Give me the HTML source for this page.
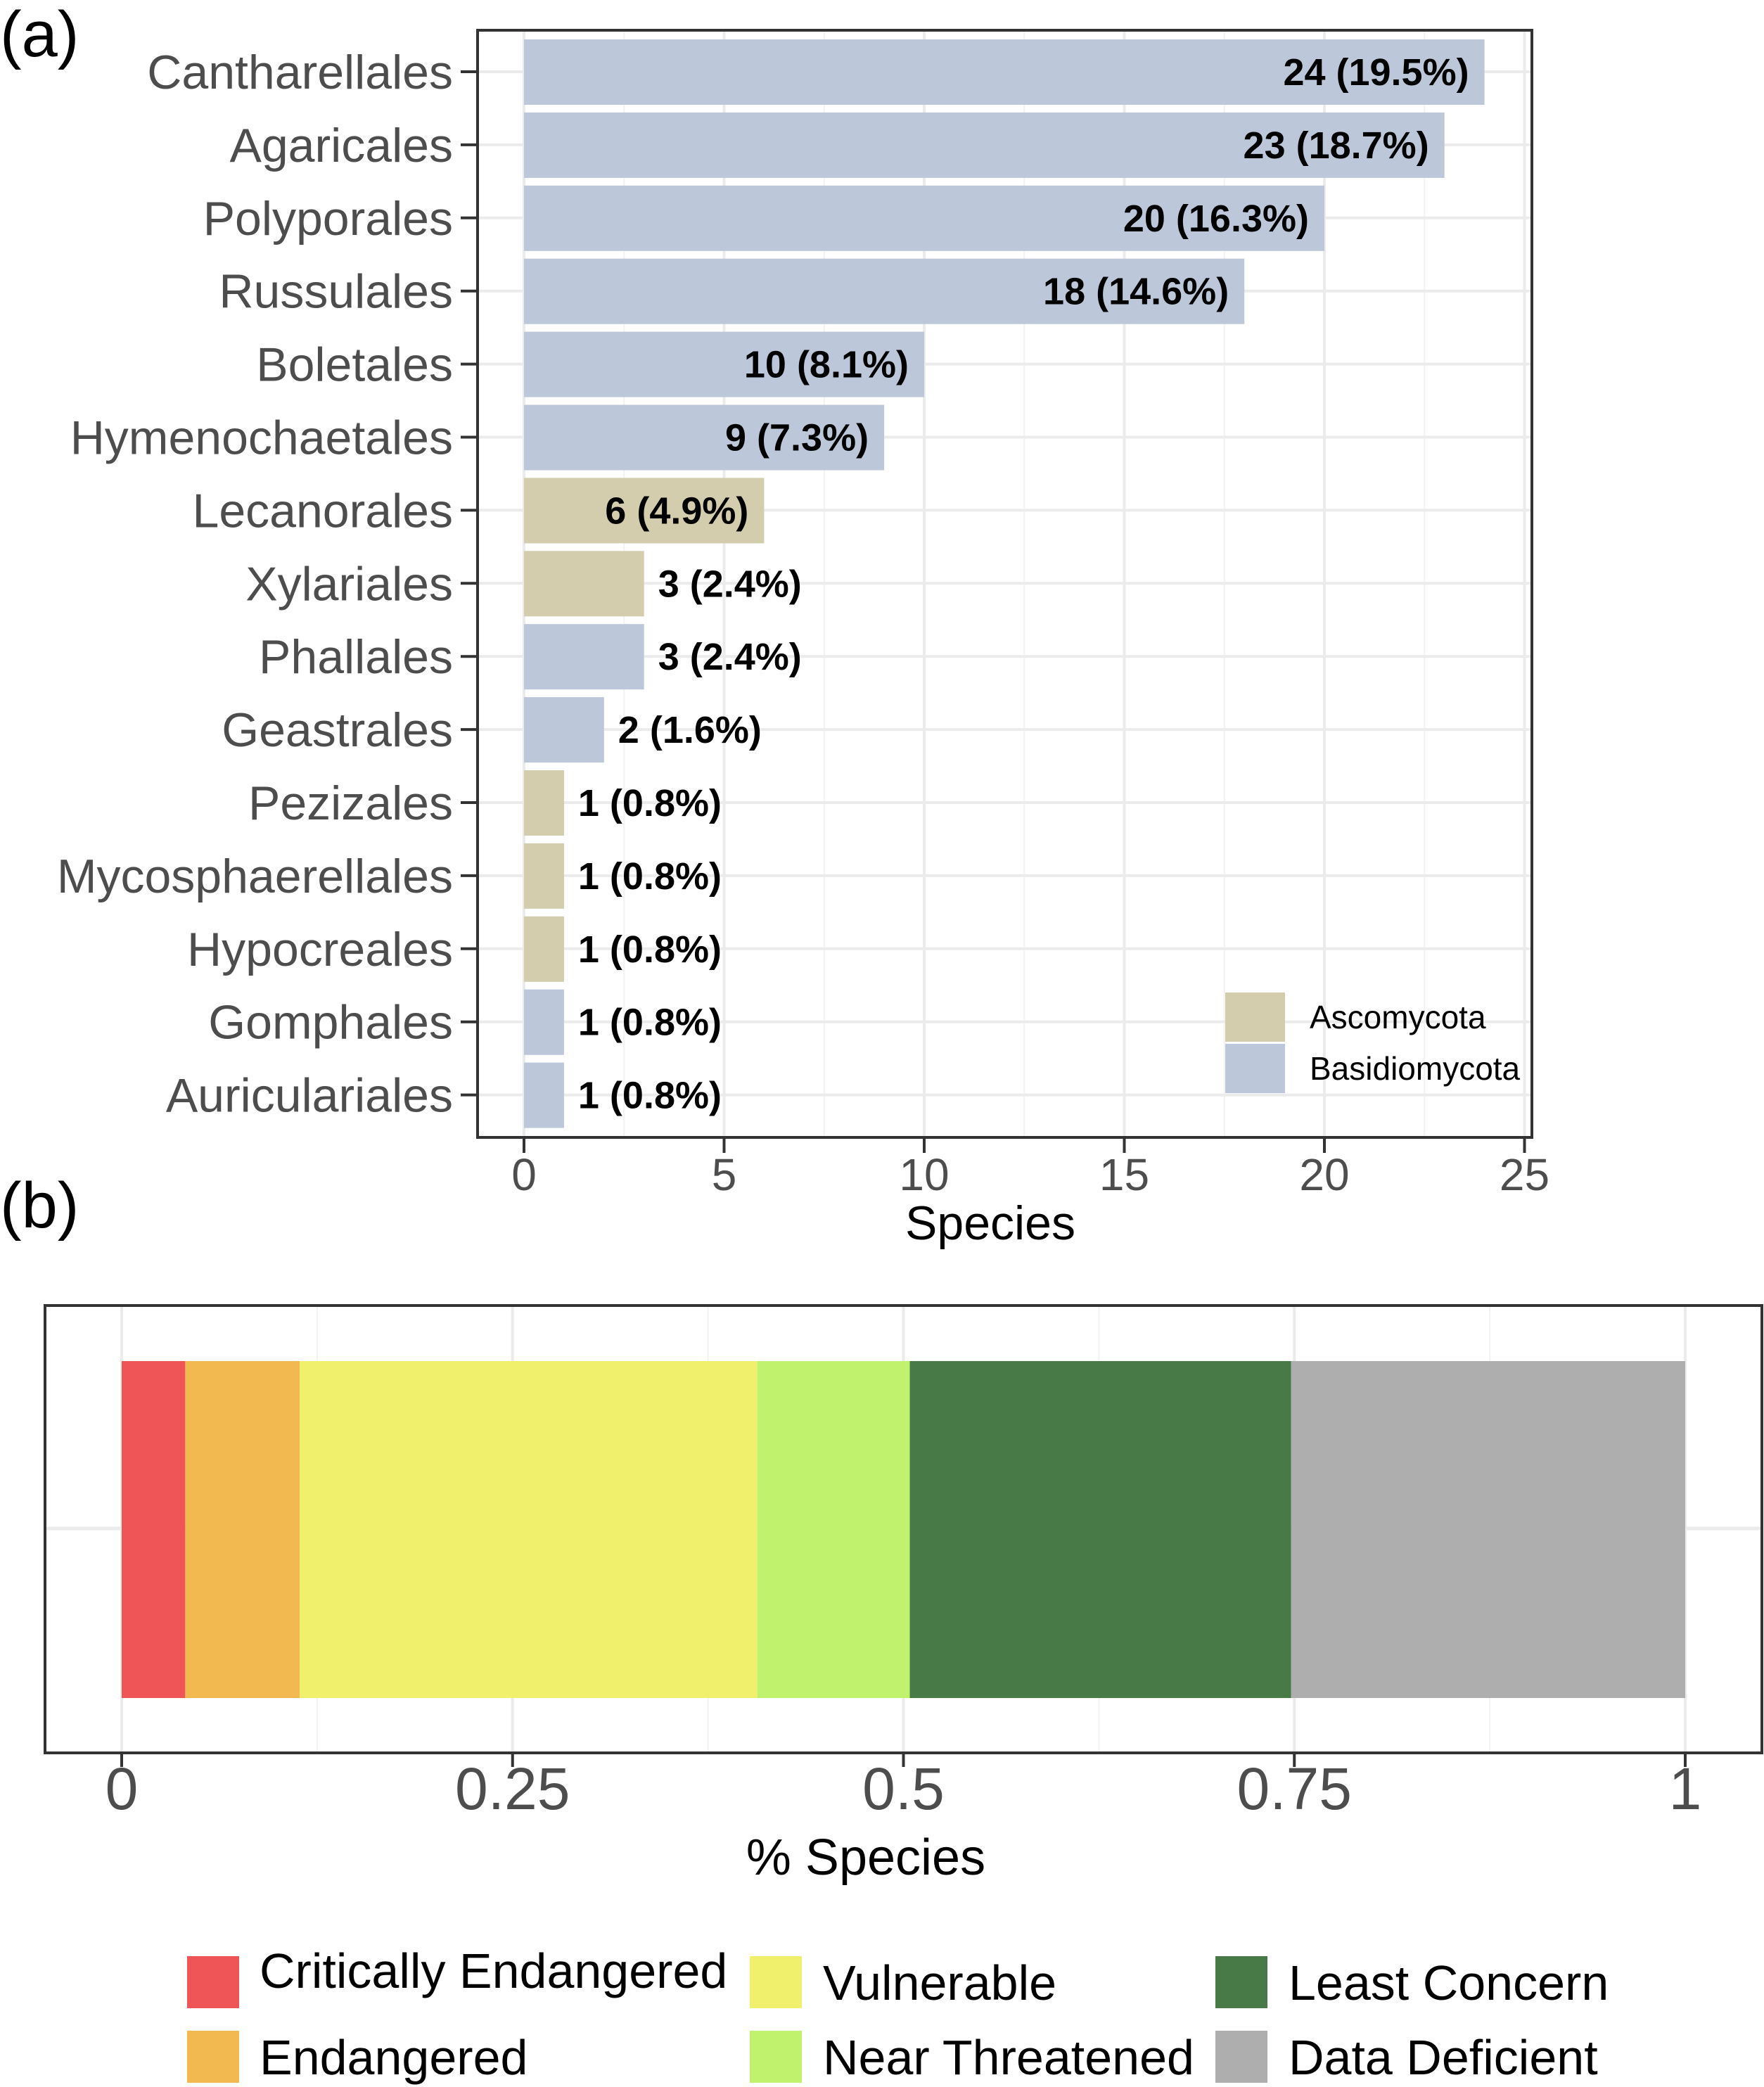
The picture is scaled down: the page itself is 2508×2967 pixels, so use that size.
<!DOCTYPE html>
<html><head><meta charset="utf-8"><style>
body{margin:0;background:#fff}
svg{display:block;font-family:"Liberation Sans",Arial,sans-serif}
</style></head><body>
<svg width="2508" height="2967" viewBox="0 0 2508 2967">
<g id="pa"></g>
<g id="pb"></g>
<text x="0" y="80" font-size="92" fill="#000">(a)</text>
<text x="0" y="1745" font-size="92" fill="#000">(b)</text>
</svg>
<script>
const categories=["Cantharellales","Agaricales","Polyporales","Russulales","Boletales","Hymenochaetales","Lecanorales","Xylariales","Phallales","Geastrales","Pezizales","Mycosphaerellales","Hypocreales","Gomphales","Auriculariales"];
const counts=[24,23,20,18,10,9,6,3,3,2,1,1,1,1,1];
const percents=["19.5","18.7","16.3","14.6","8.1","7.3","4.9","2.4","2.4","1.6","0.8","0.8","0.8","0.8","0.8"];
const phylum=["B","B","B","B","B","B","A","A","B","B","A","A","A","B","B"];
const xTicks=[0,5,10,15,20,25];
const iucnCats=["Critically Endangered","Endangered","Vulnerable","Near Threatened","Least Concern","Data Deficient"];
const iucnCounts=[5,9,36,12,30,31];
const iucnColors=["#ef5557","#f3b951","#f0f06d","#c0f26d","#477a47","#afaeaf"];
const pTicks=[0,0.25,0.5,0.75,1];
const pTickLabels=["0","0.25","0.5","0.75","1"];

const NS="http://www.w3.org/2000/svg";
function mk(p,t,a){const e=document.createElementNS(NS,t);for(const k in a)e.setAttribute(k,a[k]);p.appendChild(e);return e;}
const colA={A:"#d3cdae",B:"#bcc7d9"};
const pa=document.getElementById('pa');
const L=679,R=2178,T=43,B=1617;
const x=v=>745+v*56.9;
const y=i=>102+i*103.9;
let g;
for(let v=2.5;v<=25;v+=5){g=mk(pa,'line',{x1:x(v),x2:x(v),y1:T,y2:B,stroke:'#f2f2f2','stroke-width':2});}
xTicks.forEach(v=>{g=mk(pa,'line',{x1:x(v),x2:x(v),y1:T,y2:B,stroke:'#ebebeb','stroke-width':4});});
categories.forEach((c,i)=>{g=mk(pa,'line',{x1:L,x2:R,y1:y(i),y2:y(i),stroke:'#ebebeb','stroke-width':4});});
categories.forEach((c,i)=>{
 const r=mk(pa,'rect',{x:x(0),y:y(i)-46,width:x(counts[i])-x(0),height:93,fill:colA[phylum[i]]});
 
 
 const inside=counts[i]>=6;
 const t=mk(pa,'text',{x:inside?x(counts[i])-22:x(counts[i])+20,y:y(i)+19,'font-size':54,'font-weight':'bold','text-anchor':inside?'end':'start',fill:'#000'});
 t.textContent=counts[i]+" ("+percents[i]+"%)";
 
 
 const tk=mk(pa,'line',{x1:655,x2:L,y1:y(i),y2:y(i),stroke:'#333','stroke-width':4});
 
 
 const lb=mk(pa,'text',{x:644,y:y(i)+24,'font-size':68,'text-anchor':'end',fill:'#4d4d4d'});
 lb.textContent=c;
 
 
});
g=mk(pa,'rect',{x:L,y:T,width:R-L,height:B-T,fill:'none',stroke:'#333','stroke-width':4});
xTicks.forEach(v=>{
 g=mk(pa,'line',{x1:x(v),x2:x(v),y1:B,y2:B+22,stroke:'#333','stroke-width':4});
 const t=mk(pa,'text',{x:x(v),y:1692,'font-size':64,'text-anchor':'middle',fill:'#4d4d4d'});t.textContent=v;
 
});
g=mk(pa,'text',{x:1408,y:1762,'font-size':68,'text-anchor':'middle',fill:'#000'});g.textContent="Species";
[["Ascomycota","A",1411],["Basidiomycota","B",1484]].forEach(([n,k,yy])=>{
 g=mk(pa,'rect',{x:1742,y:yy,width:85,height:70,fill:colA[k]});
 g=mk(pa,'text',{x:1862,y:yy+51,'font-size':46,fill:'#000'});g.textContent=n;
});
const pb=document.getElementById('pb');
const L2=64,R2=2505,T2=1856,B2=2492;
const px=v=>173+v*(2396-173);
for(let v=0.125;v<1;v+=0.25){g=mk(pb,'line',{x1:px(v),x2:px(v),y1:T2,y2:B2,stroke:'#f2f2f2','stroke-width':2});}
pTicks.forEach(v=>{g=mk(pb,'line',{x1:px(v),x2:px(v),y1:T2,y2:B2,stroke:'#ebebeb','stroke-width':4});});
g=mk(pb,'line',{x1:L2,x2:R2,y1:2173,y2:2173,stroke:'#ebebeb','stroke-width':5});
const total=iucnCounts.reduce((a,b)=>a+b,0);
let cum=0;
iucnCounts.forEach((c,i)=>{
 const s=cum/total,e=(cum+c)/total;cum+=c;
 const r=mk(pb,'rect',{x:px(s),y:1935,width:px(e)-px(s),height:479,fill:iucnColors[i]});
 
 
});
g=mk(pb,'rect',{x:L2,y:T2,width:R2-L2,height:B2-T2,fill:'none',stroke:'#333','stroke-width':4});
pTicks.forEach((v,i)=>{
 g=mk(pb,'line',{x1:px(v),x2:px(v),y1:B2,y2:B2+20,stroke:'#333','stroke-width':4});
 const t=mk(pb,'text',{x:px(v),y:2572,'font-size':84,'text-anchor':'middle',fill:'#4d4d4d'});t.textContent=pTickLabels[i];
 
});
g=mk(pb,'text',{x:1231,y:2665,'font-size':72,'text-anchor':'middle',fill:'#000'});g.textContent="% Species";
const lx=[[266,369],[1066,1170],[1728,1832]],ly=[2781,2887];
iucnCats.forEach((c,i)=>{
 const col=Math.floor(i/2),row=i%2;
 g=mk(pb,'rect',{x:lx[col][0],y:ly[row],width:74,height:74,fill:iucnColors[i]});
 g=mk(pb,'text',{x:lx[col][1],y:ly[row]+(i==0?45:62),'font-size':70,fill:'#000'});g.textContent=c;
});
</script>
</body></html>
